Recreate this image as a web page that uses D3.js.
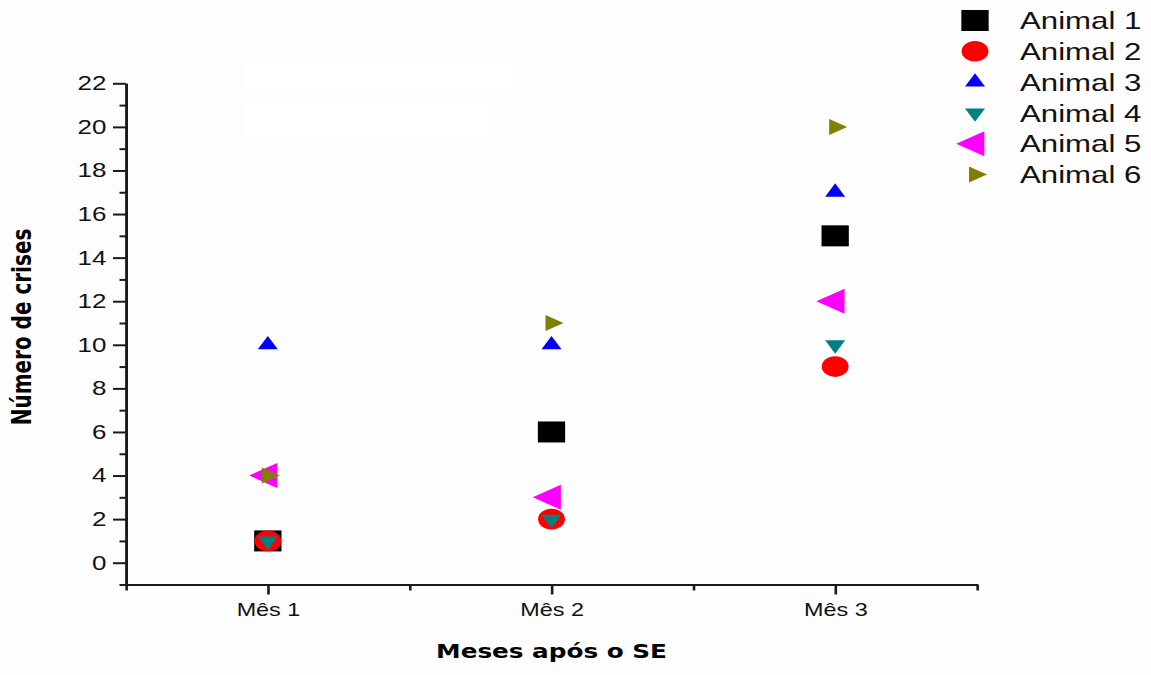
<!DOCTYPE html>
<html>
<head>
<meta charset="utf-8">
<script src="https://cdn.jsdelivr.net/npm/d3@7"></script>
<style>
  html, body { margin: 0; padding: 0; background: #fdfdfd; }
  svg { display: block; }
  .tick text { font-family: "Liberation Sans", Arial, sans-serif; fill: #111; }
</style>
</head>
<body>
<svg id="chart" width="1151" height="675"></svg>
<script>
// chart data
var months = ['Mês 1', 'Mês 2', 'Mês 3'];
var animals = ['Animal 1', 'Animal 2', 'Animal 3', 'Animal 4', 'Animal 5', 'Animal 6'];
var animal1 = [1, 6, 15];
var animal2 = [1, 2, 9];
var animal3 = [10, 10, 17];
var animal4 = [1, 2, 10];
var animal5 = [4, 3, 12];
var animal6 = [4, 11, 20];
var yMajorTicks = [0, 2, 4, 6, 8, 10, 12, 14, 16, 18, 20, 22];

var series = [animal1, animal2, animal3, animal4, animal5, animal6];
var colors = ['#000000', '#ff0000', '#0000ff', '#008080', '#ff00ff', '#808000'];
var shapes = ['square', 'circle', 'up', 'down', 'left', 'right'];

// the original picture is stretched sideways, so the whole drawing is too
const stretch = 1.3;

const svg = d3.select('#chart');
svg.append('rect').attr('width', 1151).attr('height', 675).attr('fill', '#fdfdfd');

const root = svg.append('g').attr('transform', `scale(${stretch}, 1)`);

// two blank patches left on the original
root.append('rect').attr('x', 243 / stretch).attr('y', 63).attr('width', 269 / stretch).attr('height', 28).attr('fill', '#ffffff');
root.append('rect').attr('x', 243 / stretch).attr('y', 103).attr('width', 249 / stretch).attr('height', 34).attr('fill', '#ffffff');

const plotLeft = 126 / stretch, plotRight = 977 / stretch;
const plotTop = 83.3, plotBottom = 584.5;

const xScale = d3.scaleLinear().domain([0.5, 3.5]).range([plotLeft, plotRight]);
const yScale = d3.scaleLinear().domain([-1, 22]).range([plotBottom, plotTop]);

function markerPath(shape) {
  if (shape === 'square') {
    var s = 10.5;
    return `M${-s},${-s}H${s}V${s}H${-s}Z`;
  }
  if (shape === 'circle') {
    var r = 10.3;
    return `M${r},0A${r},${r} 0 1,1 ${-r},0A${r},${r} 0 1,1 ${r},0Z`;
  }
  // equilateral triangles centred on their centroid
  var side = shape === 'left' ? 25 : (shape === 'right' ? 16 : 15.4);
  var h = side * Math.sqrt(3) / 2;
  var a = 2 * h / 3, b = h / 3, hs = side / 2;
  if (shape === 'up') return `M0,${-a}L${hs},${b}L${-hs},${b}Z`;
  if (shape === 'down') return `M0,${a}L${hs},${-b}L${-hs},${-b}Z`;
  if (shape === 'left') return `M${-a},0L${b},${-hs}L${b},${hs}Z`;
  return `M${a},0L${-b},${-hs}L${-b},${hs}Z`;
}

// axes
const axisColor = '#1a1a1a';

root.append('g')
  .attr('transform', `translate(${plotLeft},0)`)
  .call(d3.axisLeft(yScale).tickValues(d3.range(-1, 22, 2)).tickSize(5).tickSizeOuter(0).tickFormat(''));

const yMajor = root.append('g')
  .attr('transform', `translate(${plotLeft},0)`)
  .call(d3.axisLeft(yScale).tickValues(yMajorTicks).tickSize(10).tickSizeOuter(0).tickPadding(5));
yMajor.selectAll('text').style('font-size', '20px');

root.append('g')
  .attr('transform', `translate(0,${plotBottom})`)
  .call(d3.axisBottom(xScale).tickValues([0.5, 1.5, 2.5, 3.5]).tickSize(6).tickSizeOuter(0).tickFormat(''));

const xMajor = root.append('g')
  .attr('transform', `translate(0,${plotBottom})`)
  .call(d3.axisBottom(xScale).tickValues([1, 2, 3]).tickSize(10).tickSizeOuter(0).tickPadding(9)
    .tickFormat(d => months[d - 1]));
xMajor.selectAll('text').style('font-size', '18px');

root.selectAll('.domain').attr('stroke', axisColor).attr('stroke-width', 2);
root.selectAll('.tick line').attr('stroke', axisColor).attr('stroke-width', 2);

// points
series.forEach(function (vals, i) {
  root.append('g')
    .selectAll('path')
    .data(vals)
    .enter()
    .append('path')
    .attr('d', markerPath(shapes[i]))
    .attr('transform', (v, m) => `translate(${xScale(m + 1)},${yScale(v)})`)
    .attr('fill', colors[i]);
});

// axis titles
root.append('text')
  .attr('transform', `translate(${22 / stretch},327) rotate(-90)`)
  .attr('text-anchor', 'middle')
  .attr('dy', '0.36em')
  .style('font-family', '"DejaVu Sans", sans-serif')
  .style('font-weight', 'bold')
  .style('font-size', '20px')
  .attr('fill', '#000')
  .text('Número de crises');

root.append('text')
  .attr('x', (plotLeft + plotRight) / 2)
  .attr('y', 658)
  .attr('text-anchor', 'middle')
  .style('font-family', '"DejaVu Sans", sans-serif')
  .style('font-weight', 'bold')
  .style('font-size', '19px')
  .attr('fill', '#000')
  .text('Meses após o SE');

// legend
const legend = root.append('g');
animals.forEach(function (name, i) {
  const ly = 20.5 + i * 30.8;
  legend.append('path')
    .attr('d', markerPath(shapes[i]))
    .attr('transform', `translate(${975 / stretch},${ly})`)
    .attr('fill', colors[i]);
  legend.append('text')
    .attr('x', 1020 / stretch)
    .attr('y', ly)
    .attr('dy', '0.36em')
    .style('font-family', '"Liberation Sans", Arial, sans-serif')
    .style('font-size', '24px')
    .attr('fill', '#111')
    .text(name);
});
</script>
</body>
</html>
